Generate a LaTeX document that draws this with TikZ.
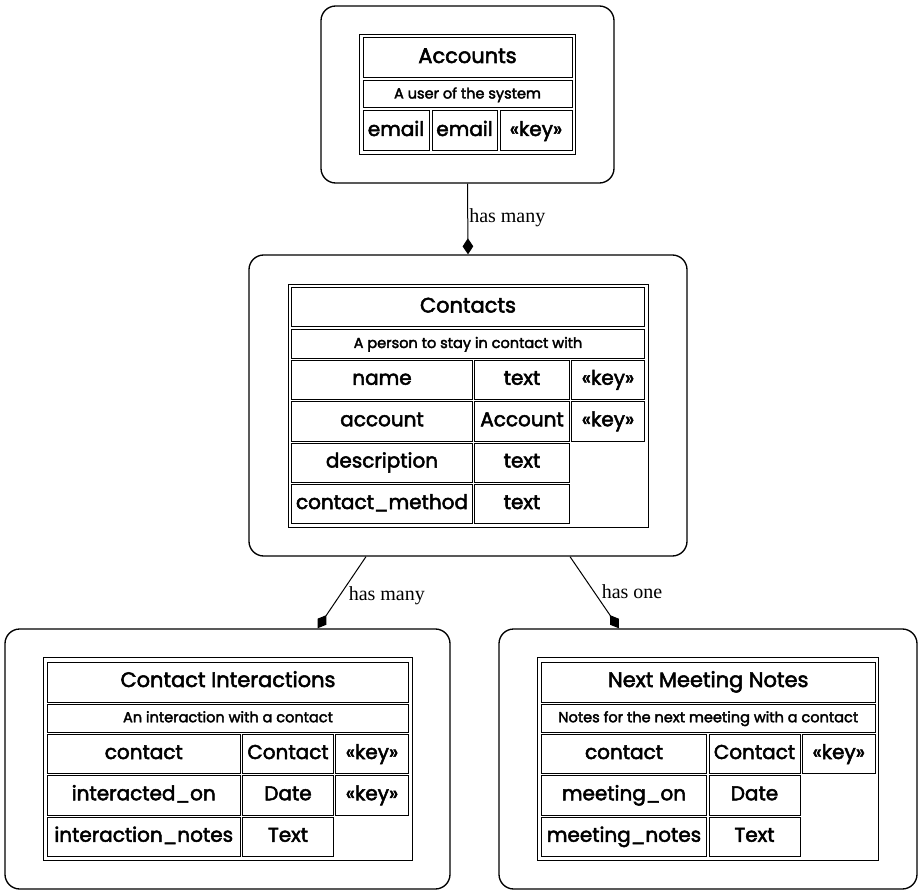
\documentclass[tikz,border=0pt]{standalone}
\usepackage{fontspec}
\setmainfont{Poppins}[FakeBold=2.5]
\newfontfamily\lblfont{Liberation Serif}
\usetikzlibrary{arrows.meta}
\newcommand\cellat[6]{%
  \node[cellbox, minimum width={(#4-#2)*0.75pt}, minimum height={(#5-#3)*0.75pt}] (#1) at ({(#2+#4)/2},{(#3+#5)/2}) {#6};}
\newcommand\titleat[6]{%
  \node[cellbox, titlecell, minimum width={(#4-#2)*0.75pt}, minimum height={(#5-#3)*0.75pt}] (#1) at ({(#2+#4)/2},{(#3+#5)/2}) {#6};}
\newcommand\subat[6]{%
  \node[cellbox, subcell, minimum width={(#4-#2)*0.75pt}, minimum height={(#5-#3)*0.75pt}] (#1) at ({(#2+#4)/2},{(#3+#5)/2}) {#6};}
\newcommand\tableat[5]{%
  \node[tablebox, minimum width={(#4-#2)*0.75pt}, minimum height={(#5-#3)*0.75pt}] (#1) at ({(#2+#4)/2},{(#3+#5)/2}) {};}
\newcommand\boxat[5]{%
  \node[entitybox, minimum width={(#4-#2)*0.75pt}, minimum height={(#5-#3)*0.75pt}] (#1) at ({(#2+#4)/2},{(#3+#5)/2}) {};}
\tikzset{
  cellbox/.style={draw, line width=0.75pt, inner sep=0pt, font=\fontsize{15pt}{17pt}\selectfont, text height=11.25pt, text depth=3.75pt},
  titlecell/.style={font=\fontsize{15.7pt}{18pt}\selectfont},
  subcell/.style={font=\fontsize{10.9pt}{13pt}\selectfont, text height=9pt, text depth=3pt},
  tablebox/.style={draw, line width=0.75pt, inner sep=0pt},
  entitybox/.style={draw, line width=1pt, rounded corners=11pt, inner sep=0pt},
  rel/.style={line width=0.75pt, -{Diamond[length=12pt,width=8pt]}},
  rellabel/.style={font=\lblfont\fontsize{15pt}{17pt}\selectfont, inner sep=0pt, anchor=base west}
}
\begin{document}
\begin{tikzpicture}[x=0.75pt,y=-0.75pt]
\useasboundingbox (0,0) rectangle (922,895);
% ---------- Accounts ----------
\boxat{acc}{321}{6}{614}{183}
\tableat{acctab}{359.5}{34.5}{575.5}{154.5}
\titleat{acct}{363}{38}{572}{78}{Accounts}
\subat{accs}{363}{81}{572}{108}{A user of the system}
\cellat{acc11}{363}{111}{429}{151}{email}
\cellat{acc12}{432}{111}{497}{151}{email}
\cellat{acc13}{500}{111}{572}{151}{«key»}
% ---------- Contacts ----------
\boxat{con}{249}{255}{687}{556}
\tableat{contab}{288}{284.5}{648}{527}
\titleat{cont}{291.5}{288}{644.5}{327}{Contacts}
\subat{cons}{291.5}{330}{644.5}{358}{A person to stay in contact with}
\cellat{con11}{291.5}{360}{472.5}{399.5}{name}
\cellat{con12}{474.5}{360}{569.5}{399.5}{text}
\cellat{con13}{571.5}{360}{644.5}{399.5}{«key»}
\cellat{con21}{291.5}{401.5}{472.5}{441}{account}
\cellat{con22}{474.5}{401.5}{569.5}{441}{Account}
\cellat{con23}{571.5}{401.5}{644.5}{441}{«key»}
\cellat{con31}{291.5}{443}{472.5}{482}{description}
\cellat{con32}{474.5}{443}{569.5}{482}{text}
\cellat{con41}{291.5}{484.5}{472.5}{523.5}{contact\_method}
\cellat{con42}{474.5}{484.5}{569.5}{523.5}{text}
% ---------- Contact Interactions ----------
\boxat{ci}{5}{629}{450}{889}
\tableat{citab}{43.5}{657.5}{412.5}{860}
\titleat{cit}{47.5}{662}{408.5}{702}{Contact Interactions}
\subat{cis}{47.5}{704}{408.5}{732.5}{An interaction with a contact}
\cellat{ci11}{47.5}{734.5}{240}{773.5}{contact}
\cellat{ci12}{242.5}{734.5}{333.5}{773.5}{Contact}
\cellat{ci13}{335.5}{734.5}{408.5}{773.5}{«key»}
\cellat{ci21}{47.5}{775.5}{240}{815}{interacted\_on}
\cellat{ci22}{242.5}{775.5}{333.5}{815}{Date}
\cellat{ci23}{335.5}{775.5}{408.5}{815}{«key»}
\cellat{ci31}{47.5}{817}{240}{856.5}{interaction\_notes}
\cellat{ci32}{242.5}{817}{333.5}{856.5}{Text}
% ---------- Next Meeting Notes ----------
\boxat{nmn}{499}{629}{917}{889}
\tableat{nmntab}{537.5}{657.5}{878.5}{860}
\titleat{nmnt}{541.5}{662}{875}{702}{Next Meeting Notes}
\subat{nmns}{541.5}{704}{875}{732.5}{Notes for the next meeting with a contact}
\cellat{nmn11}{541.5}{734.5}{706.5}{773.5}{contact}
\cellat{nmn12}{709}{734.5}{800}{773.5}{Contact}
\cellat{nmn13}{802.5}{734.5}{875}{773.5}{«key»}
\cellat{nmn21}{541.5}{775.5}{706.5}{815}{meeting\_on}
\cellat{nmn22}{709}{775.5}{800}{815}{Date}
\cellat{nmn31}{541.5}{817}{706.5}{856.5}{meeting\_notes}
\cellat{nmn32}{709}{817}{800}{856.5}{Text}
% ---------- Relations ----------
\draw[rel] (acc.south) -- (con.north);
\node[rellabel] (l1) at (469,223) {has many};
\draw[rel] ([xshift=-76.5pt]con.south) -- ([xshift=67.5pt]ci.north);
\node[rellabel] (l2) at (348.5,600) {has many};
\draw[rel] ([xshift=76.5pt]con.south) -- ([xshift=-66.75pt]nmn.north);
\node[rellabel] (l3) at (601.5,598) {has one};
\end{tikzpicture}
\end{document}
